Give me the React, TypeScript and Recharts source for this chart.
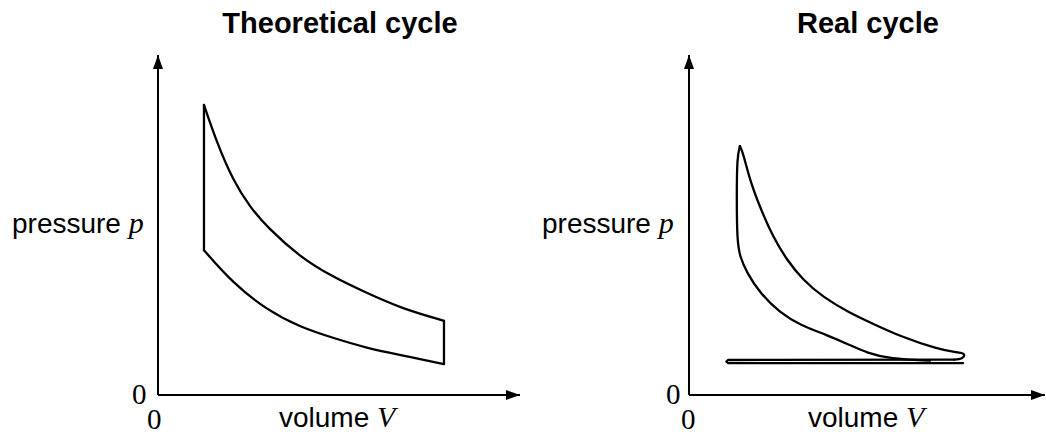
import { LineChart, Line, XAxis, YAxis, ReferenceLine, ReferenceDot } from 'recharts';

// theoretical cycle (volume v, pressure p), arbitrary units 0..100
const theoExpansion = [
  { v: 12.7, p: 85.3 }, { v: 16.3, p: 74.1 }, { v: 20.7, p: 63.2 }, { v: 25.4, p: 55.3 },
  { v: 30.1, p: 49.4 }, { v: 39.2, p: 40.6 }, { v: 48.3, p: 34.7 }, { v: 57.7, p: 30.0 },
  { v: 66.9, p: 25.6 }, { v: 79.0, p: 21.8 },
];
const theoCompression = [
  { v: 12.7, p: 42.6 }, { v: 20.7, p: 32.9 }, { v: 30.1, p: 25.0 }, { v: 39.2, p: 20.0 },
  { v: 48.3, p: 16.8 }, { v: 57.7, p: 13.8 }, { v: 66.9, p: 11.8 }, { v: 79.0, p: 9.1 },
];
const theoHeatIn = [{ v: 12.7, p: 42.6 }, { v: 12.7, p: 85.3 }];
const theoHeatOut = [{ v: 79.0, p: 9.1 }, { v: 79.0, p: 21.8 }];

// real cycle
const realCompression = [
  { v: 67.7, p: 10.1 }, { v: 56.5, p: 10.6 }, { v: 50.0, p: 12.4 }, { v: 45.2, p: 14.7 },
  { v: 38.8, p: 17.6 }, { v: 31.2, p: 20.6 }, { v: 25.6, p: 24.1 }, { v: 19.9, p: 30.0 },
  { v: 16.3, p: 35.9 }, { v: 14.3, p: 40.6 }, { v: 13.5, p: 45.6 }, { v: 13.4, p: 58.2 },
  { v: 13.5, p: 70.0 }, { v: 14.3, p: 73.2 },
];
const realExpansion = [
  { v: 14.3, p: 73.2 }, { v: 15.2, p: 71.2 }, { v: 17.1, p: 63.2 }, { v: 19.9, p: 55.3 },
  { v: 23.6, p: 46.5 }, { v: 27.5, p: 39.7 }, { v: 32.0, p: 33.8 }, { v: 37.6, p: 28.8 },
  { v: 45.2, p: 24.1 }, { v: 51.0, p: 21.3 }, { v: 59.6, p: 17.1 }, { v: 70.0, p: 13.5 },
  { v: 75.0, p: 12.6 },
];
const realTip = [{ v: 75.0, p: 12.6 }, { v: 77.2, p: 12.0 }, { v: 76.6, p: 10.8 }, { v: 74.5, p: 10.4 }];
const realGasExchange = [
  { v: 74.5, p: 10.4 }, { v: 11.0, p: 10.3 }, { v: 10.5, p: 9.85 }, { v: 11.0, p: 9.4 }, { v: 77.0, p: 9.4 },
];

const upArrow = (props: any) => {
  const { cx, cy } = props;
  return <polygon points={`${cx},${cy} ${cx - 5},${cy + 14} ${cx + 5},${cy + 14}`} fill="#000" />;
};
const rightArrow = (props: any) => {
  const { cx, cy } = props;
  return <polygon points={`${cx},${cy} ${cx - 14},${cy - 5} ${cx - 14},${cy + 5}`} fill="#000" />;
};

const curve = { stroke: '#000', strokeWidth: 2.3, dot: false, isAnimationActive: false, strokeLinecap: 'round' as const, strokeLinejoin: 'round' as const };

function Panel({ left, marginLeft, marginRight, children }: any) {
  return (
    <div style={{ position: 'absolute', left, top: 0 }}>
      <LineChart width={523} height={434} margin={{ top: 55, left: marginLeft, right: marginRight, bottom: 39 }}>
        <XAxis dataKey="v" type="number" domain={[0, 100]} hide allowDataOverflow />
        <YAxis dataKey="p" type="number" domain={[0, 100]} hide allowDataOverflow />
        <ReferenceLine x={0} stroke="#000" strokeWidth={2} />
        <ReferenceLine y={0} stroke="#000" strokeWidth={2} />
        <ReferenceDot x={0} y={100} shape={upArrow} />
        <ReferenceDot x={100} y={0} shape={rightArrow} />
        {children}
      </LineChart>
    </div>
  );
}

const sans = '"Liberation Sans", Arial, sans-serif';
const serif = '"Liberation Serif", "Times New Roman", serif';

export default function App() {
  return (
    <div style={{ position: 'absolute', left: 0, top: 0, width: 1046, height: 434, background: '#fff', overflow: 'hidden' }}>
      <Panel left={0} marginLeft={158} marginRight={3}>
        <Line data={theoExpansion} dataKey="p" type="basis" {...curve} />
        <Line data={theoCompression} dataKey="p" type="basis" {...curve} />
        <Line data={theoHeatIn} dataKey="p" type="linear" {...curve} />
        <Line data={theoHeatOut} dataKey="p" type="linear" {...curve} />
      </Panel>
      <Panel left={523} marginLeft={166} marginRight={1}>
        <Line data={realCompression} dataKey="p" type="basis" {...curve} />
        <Line data={realExpansion} dataKey="p" type="basis" {...curve} />
        <Line data={realTip} dataKey="p" type="natural" {...curve} />
        <Line data={realGasExchange} dataKey="p" type="linear" {...curve} />
      </Panel>
      <svg width={1046} height={434} style={{ position: 'absolute', left: 0, top: 0, pointerEvents: 'none' }}>
        <text x={340} y={33} textAnchor="middle" fontFamily={sans} fontWeight="bold" fontSize={29}>Theoretical cycle</text>
        <text x={868} y={33} textAnchor="middle" fontFamily={sans} fontWeight="bold" fontSize={29}>Real cycle</text>

        <text x={12} y={233} fontFamily={sans} fontSize={28}>pressure <tspan fontFamily={serif} fontStyle="italic" fontSize={30}>p</tspan></text>
        <text x={542} y={233} fontFamily={sans} fontSize={28}>pressure <tspan fontFamily={serif} fontStyle="italic" fontSize={30}>p</tspan></text>

        <text x={279} y={427} fontFamily={sans} fontSize={28}>volume <tspan fontFamily={serif} fontStyle="italic" fontSize={30}>V</tspan></text>
        <text x={808} y={427} fontFamily={sans} fontSize={28}>volume <tspan fontFamily={serif} fontStyle="italic" fontSize={30}>V</tspan></text>

        <text x={132} y={404} fontFamily={serif} fontSize={29}>0</text>
        <text x={147} y={429} fontFamily={serif} fontSize={29}>0</text>
        <text x={666} y={404} fontFamily={serif} fontSize={29}>0</text>
        <text x={681} y={429} fontFamily={serif} fontSize={29}>0</text>
      </svg>
    </div>
  );
}
